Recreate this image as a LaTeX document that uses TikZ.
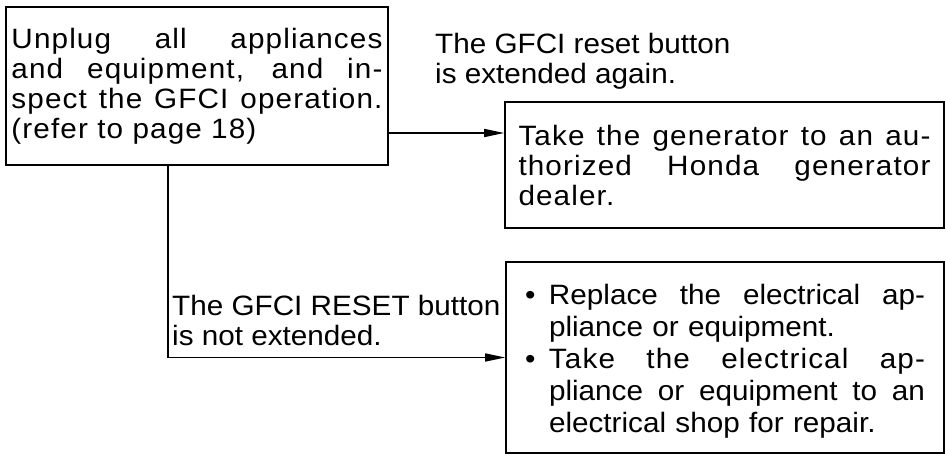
\documentclass[tikz,border=0pt]{standalone}
\usepackage{fontspec}
\setmainfont{Liberation Sans}[FakeStretch=1.06]
\newfontfamily\widefont{Liberation Sans}[FakeStretch=1.06,LetterSpace=4]
\usetikzlibrary{arrows.meta}
\newcommand{\jline}[2]{{\spaceskip=0pt\xspaceskip=0pt\makebox[#1][s]{#2}}}
\begin{document}
\begin{tikzpicture}[x=1pt,y=-1pt,
  box/.style={draw,line width=1.6pt,align=left,inner ysep=0pt,font=\widefont\fontsize{28}{30}\selectfont},
  arr/.style={line width=1.6pt,-{Triangle[length=20pt,width=8pt]}},
  lbl/.style={anchor=north west,inner sep=0pt,align=left,font=\fontsize{28}{30}\selectfont}]
\useasboundingbox (0,0) rectangle (946,454);
\node[box,text width=371pt,inner xsep=5.5pt,minimum height=158pt] (check) at (197,86)
  {\jline{371pt}{Unplug all appliances}\\ \jline{371pt}{and equipment, and in-}\\
   \jline{371pt}{spect the GFCI operation.}\\ (refer to page 18)};
\node[box,text width=412pt,inner xsep=13.5pt,minimum height=126pt] (dealer) at (724.5,165)
  {\jline{412pt}{Take the generator to an au-}\\ \jline{412pt}{thorized Honda generator}\\ dealer.};
\node[box,text width=400pt,inner xsep=19pt,minimum height=191pt,
      font=\rmfamily\fontsize{28}{32}\selectfont] (replace) at (725,357.5)
  {\rule{0pt}{27pt}\jline{400pt}{\makebox[24pt][l]{\textbullet}Replace the electrical ap-}\\
   \hspace*{24pt}pliance or equipment.\\
   \jline{400pt}{\makebox[24pt][l]{\textbullet}\widefont Take the electrical ap-}\\
   \hspace*{24pt}\jline{376pt}{pliance or equipment to an}\\
   \hspace*{24pt}electrical shop for repair.};
\node[lbl] (yes) at (435,33) {The GFCI reset button\\ is extended again.};
\node[lbl] (no) at (172,295) {The GFCI RESET button\\ is not extended.};
\coordinate (j1) at (388,133);
\coordinate (j2) at (168,165);
\draw[arr] (j1) -- (j1 -| dealer.west);
\draw[arr] (j2) |- (replace.west);
\end{tikzpicture}
\end{document}
